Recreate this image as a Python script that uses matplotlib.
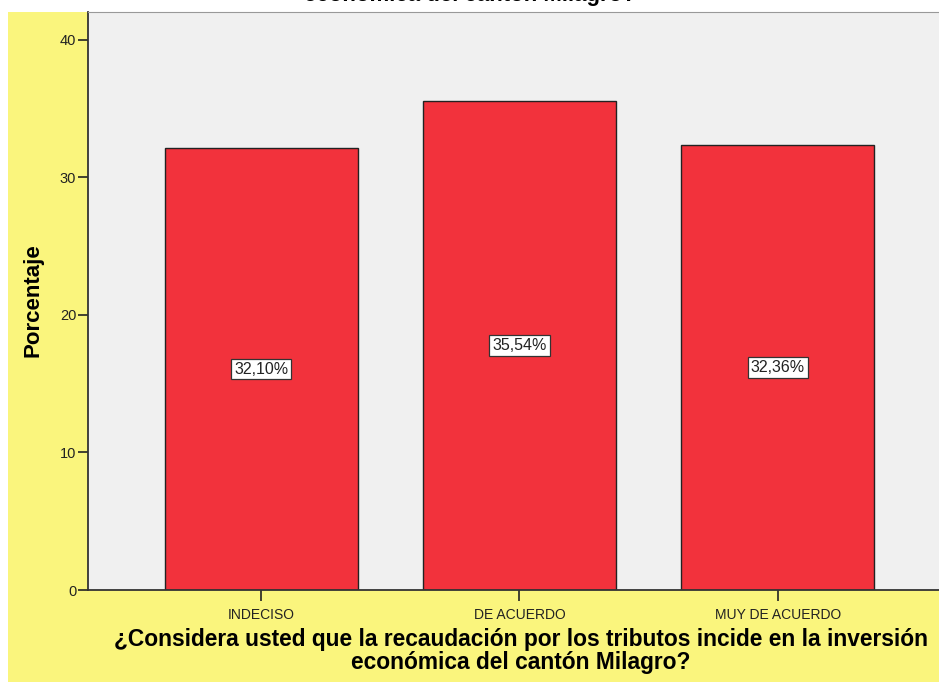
import matplotlib.pyplot as plt
from matplotlib.patches import Rectangle

categorias = ["INDECISO", "DE ACUERDO", "MUY DE ACUERDO"]
porcentajes = [32.10, 35.54, 32.36]
etiquetas = ["32,10%", "35,54%", "32,36%"]
yticks = [0, 10, 20, 30, 40]

W, H = 939, 686
fig = plt.figure(figsize=(W / 100, H / 100), dpi=100, facecolor="white")

# yellow chart background
fig.patches.append(Rectangle((8 / W, 4 / H), 1 - 8 / W, (682 - 12) / H,
                             transform=fig.transFigure, facecolor="#faf57d",
                             edgecolor="none", zorder=-10))

ax = fig.add_axes([88 / W, (H - 590) / H, (W - 88) / W + 0.01, (590 - 12) / H])
ax.set_facecolor("#f0f0f0")

x = list(range(len(categorias)))
ax.bar(x, porcentajes, width=0.747, color="#f2323c", edgecolor="#222222",
       linewidth=1.0, zorder=2)

for xi, v, t in zip(x, porcentajes, etiquetas):
    ax.text(xi, v / 2, t, ha="center", va="center", fontsize=11.5,
            family="Liberation Sans", color="#222222", zorder=3,
            bbox=dict(boxstyle="square,pad=0.18", facecolor="white",
                      edgecolor="#333333", linewidth=0.9))

ax.set_xlim(-0.67, 2.66)
ax.set_ylim(0, 42.0)
ax.set_yticks(yticks)
ax.set_xticks(x)
ax.set_xticklabels(categorias, family="Liberation Sans", fontsize=10)
ax.tick_params(axis="y", direction="out", length=7.5, width=1.2, pad=1,
               labelsize=10.5, colors="#222222")
ax.tick_params(axis="x", direction="out", length=8, width=1.2, pad=5,
               colors="#222222")
for lab in ax.get_yticklabels():
    lab.set_family("Liberation Sans")

ax.spines["left"].set_color("#333333")
ax.spines["left"].set_linewidth(1.3)
ax.spines["bottom"].set_color("#333333")
ax.spines["bottom"].set_linewidth(1.3)
ax.spines["top"].set_color("#999999")
ax.spines["right"].set_visible(False)

fig.text(521 / W, 1 - 651 / H,
         "¿Considera usted que la recaudación por los tributos incide en la inversión\neconómica del cantón Milagro?",
         ha="center", va="center", fontsize=16.4, fontweight="bold",
         family="Liberation Sans", linespacing=0.95)
fig.text(33 / W, 1 - 300 / H, "Porcentaje", rotation=90, ha="center",
         va="center", fontsize=16, fontweight="bold", family="Liberation Sans")
# title cut off at the top edge, as in the source
fig.text(470 / W, 1 + 4 / H, "económica del cantón Milagro?", ha="center",
         va="center", fontsize=16, fontweight="bold", family="Liberation Sans")

fig.savefig("out.png", dpi=100, facecolor="white")
